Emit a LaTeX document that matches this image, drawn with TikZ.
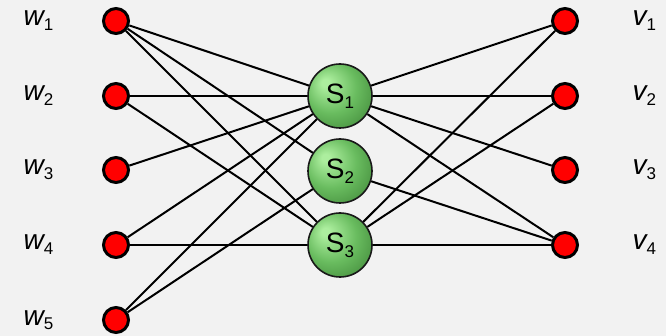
\documentclass[tikz,border=0pt]{standalone}
\usepackage{fontspec}
\setmainfont{Liberation Sans}
\newfontfamily\slantsans{Liberation Sans}[FakeSlant=0.2]
\definecolor{bg}{HTML}{F2F2F2}
\definecolor{lgreen}{RGB}{172,238,158}
\definecolor{mgreen}{RGB}{105,188,95}
\definecolor{dgreen}{RGB}{48,115,42}
\pgfdeclareradialshading{sphere}{\pgfpoint{-12bp}{11bp}}{color(0bp)=(lgreen); color(3bp)=(lgreen); color(20bp)=(mgreen); color(44bp)=(dgreen); color(50bp)=(dgreen)}
\tikzset{
  rednode/.style={circle, draw=black, line width=3pt, fill=red, minimum size=25pt, inner sep=0pt},
  snode/.style={circle, draw=black!90, line width=1.6pt, shading=sphere, minimum size=64pt, inner sep=0pt, font=\fontsize{28}{30}\selectfont},
  lbl/.style={anchor=base west, inner sep=0pt, font=\fontsize{28}{30}\selectfont},
  edge/.style={line width=2pt, black}
}
\newcommand{\sub}[1]{\raisebox{-5pt}{\fontsize{17}{18}\selectfont #1}}
\newcommand{\lab}[2]{{\slantsans #1}\kern1.5pt\sub{#2}}
\begin{document}
\begin{tikzpicture}[x=1pt,y=-1pt]
\fill[bg] (0,0) rectangle (666,336);
\useasboundingbox (0,0) rectangle (666,336);
% left nodes
\foreach \i/\y in {1/21,2/96,3/170,4/245,5/320}{
  \node[rednode] (w\i) at (116,\y) {};
  \node[lbl] (lw\i) at (22,\y+5) {\lab{w}{\i}};
}
\foreach \i/\y in {1/21,2/96,3/170,4/245}{
  \node[rednode] (v\i) at (565,\y) {};
  \node[lbl] (lv\i) at (631,\y+5) {\lab{v}{\i}};
}
\node[snode] (S1) at (340,96) {S\sub{1}};
\node[snode] (S2) at (340,171) {S\sub{2}};
\node[snode] (S3) at (340,245) {S\sub{3}};
% edges
\foreach \a/\b in {w1/S1,w1/S2,w1/S3,w2/S1,w2/S3,w3/S1,w4/S1,w4/S3,w5/S1,w5/S2,
                   S1/v1,S1/v2,S1/v3,S1/v4,S2/v4,S3/v1,S3/v2,S3/v4}{
  \draw[edge] (\a) -- (\b);
}
\end{tikzpicture}
\end{document}
